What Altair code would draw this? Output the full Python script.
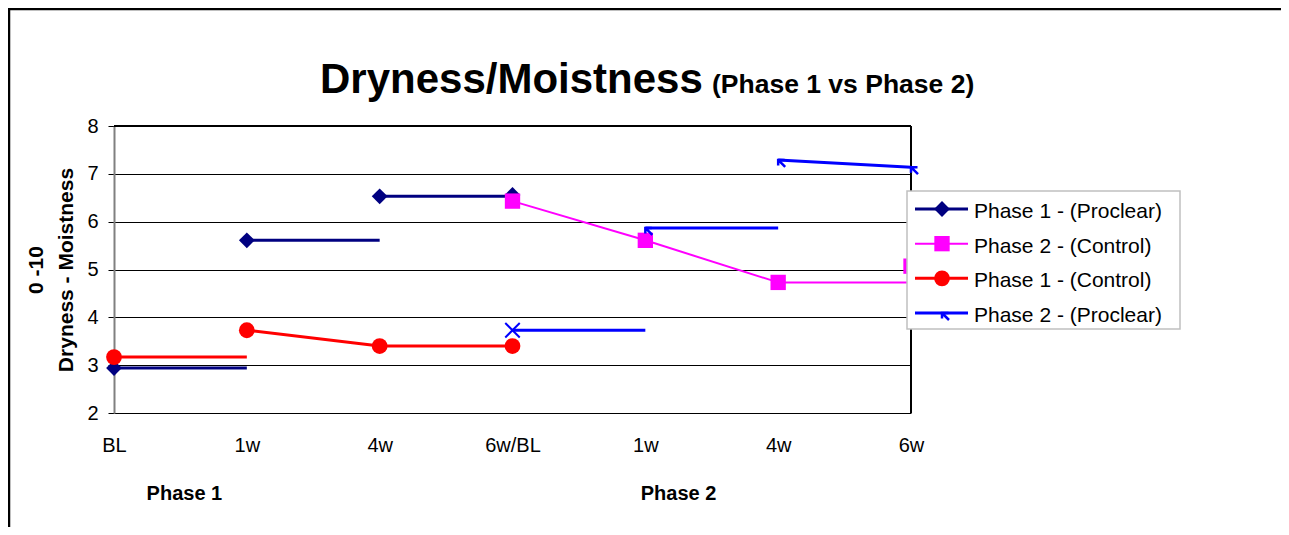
import altair as alt
import pandas as pd

# ---------------- data ----------------
x_labels = ["BL", "1w", "4w", "6w/BL", "1w", "4w", "6w"]
y_ticks = [2, 3, 4, 5, 6, 7, 8]
series_names = ["Phase 1 - (Proclear)", "Phase 2 - (Control)",
                "Phase 1 - (Control)", "Phase 2 - (Proclear)"]
series_colors = ["#000080", "#FF00FF", "#FF0000", "#0000FF"]

# markers (x index, value)
p1_proclear_x = [0, 1, 2, 3]
p1_proclear_y = [2.94, 5.61, 6.53, 6.56]
p2_control_x = [3, 4, 5, 6]
p2_control_y = [6.43, 5.61, 4.73, 5.07]
p1_control_x = [0, 1, 2, 3]
p1_control_y = [3.17, 3.73, 3.40, 3.40]
p2_proclear_x = [3, 4, 5, 6]
p2_proclear_y = [3.73, 5.87, 7.29, 7.14]

# line pieces as drawn: start x, start value, end x, end value
p1_proclear_seg_x0 = [0, 1, 2]
p1_proclear_seg_y0 = [2.94, 5.61, 6.53]
p1_proclear_seg_x1 = [1, 2, 3]
p1_proclear_seg_y1 = [2.94, 5.61, 6.53]

p2_control_seg_x0 = [3, 4, 5]
p2_control_seg_y0 = [6.43, 5.61, 4.73]
p2_control_seg_x1 = [4, 5, 6]
p2_control_seg_y1 = [5.61, 4.73, 4.73]

p1_control_seg_x0 = [0, 1, 2]
p1_control_seg_y0 = [3.17, 3.73, 3.40]
p1_control_seg_x1 = [1, 2, 3]
p1_control_seg_y1 = [3.17, 3.40, 3.40]

p2_proclear_seg_x0 = [3, 4, 5]
p2_proclear_seg_y0 = [3.73, 5.87, 7.29]
p2_proclear_seg_x1 = [4, 5, 6]
p2_proclear_seg_y1 = [3.73, 5.87, 7.14]

title_main = "Dryness/Moistness"
title_sub = "(Phase 1 vs Phase 2)"
y_title = ["0 -10", "Dryness - Moistness"]
phase_labels = ["Phase 1", "Phase 2"]
phase_label_x = [0.53, 4.25]

FONT = "Liberation Sans"
W, H = 797, 287

# ---------------- scales / axes ----------------
label_expr = "[" + ",".join("'%s'" % l for l in x_labels) + "][datum.value]"
xs = alt.Scale(domain=[0, 6], nice=False, zero=False)
ys = alt.Scale(domain=[2, 8], nice=False, zero=False)
x_axis = alt.Axis(values=list(range(7)), labelExpr=label_expr, grid=False, domain=False,
                  ticks=False, labelFontSize=20, labelPadding=22, labelColor="black",
                  labelFont=FONT, labelOverlap=False, labelFlush=False)
y_axis = alt.Axis(values=y_ticks, grid=True, gridColor="black", gridWidth=1, gridOpacity=1,
                  domainColor="#808080", domainWidth=2, tickColor="black", tickSize=6,
                  tickWidth=1, labelFontSize=20, labelPadding=10, labelColor="black",
                  labelFont=FONT, titleFontSize=21, titleFontWeight="bold", titlePadding=10,
                  titleColor="black", titleFont=FONT, titleLineHeight=30)


def X(field):
    return alt.X(field, type="quantitative", scale=xs, axis=x_axis, title=None)


def Y(field):
    return alt.Y(field, type="quantitative", scale=ys, axis=y_axis, title=y_title)


ARROW = "M1.3,0L0,0L0,1.1M0,0L1.4,1.4"
XMARK = "M-1,-1L1,1M-1,1L1,-1"


def markers(df, i, filt=None):
    c = series_colors[i]
    base = alt.Chart(df)
    if filt is not None:
        base = base.transform_filter(filt)
    if i == 0:
        m = base.mark_point(shape="diamond", filled=True, size=250, color=c, opacity=1)
    elif i == 1:
        m = base.mark_point(shape="square", filled=True, size=235, color=c, opacity=1)
    elif i == 2:
        m = base.mark_point(shape="circle", filled=True, size=250, color=c, opacity=1)
    else:
        m = base.mark_point(shape=ARROW, filled=False, size=100, stroke=c, strokeWidth=2.5,
                            opacity=1)
    return m


def series_layers(i, px, py, sx0, sy0, sx1, sy1, lw):
    seg = pd.DataFrame({"x0": sx0, "y0": sy0, "x1": sx1, "y1": sy1})
    pts = pd.DataFrame({"x": px, "y": py})
    lines = alt.Chart(seg).mark_rule(color=series_colors[i], strokeWidth=lw).encode(
        x=X("x0"), x2="x1", y=Y("y0"), y2="y1")
    layers = [lines]
    if i == 3:
        layers.append(alt.Chart(pts).transform_filter("datum.x == 3").mark_point(
            shape=XMARK, filled=False, size=210, stroke=series_colors[i], strokeWidth=2,
            opacity=1).encode(x=X("x"), y=Y("y")))
        layers.append(markers(pts, i, "datum.x != 3").encode(x=X("x"), y=Y("y")))
    else:
        layers.append(markers(pts, i).encode(x=X("x"), y=Y("y")))
    return layers


one = pd.DataFrame({"k": [0]})

top_border = alt.Chart(pd.DataFrame({"v": [8]})).mark_rule(color="black", strokeWidth=2).encode(
    y=Y("v"), x=alt.value(0), x2=alt.value(W))
right_border = alt.Chart(pd.DataFrame({"v": [6]})).mark_rule(color="black", strokeWidth=2).encode(
    x=X("v"), y=alt.value(0), y2=alt.value(H))

frame_top = alt.Chart(one).mark_rule(color="black", strokeWidth=2.5).encode(
    x=alt.value(-106), x2=alt.value(1170), y=alt.value(-117))
frame_left = alt.Chart(one).mark_rule(color="black", strokeWidth=2.5).encode(
    x=alt.value(-105), y=alt.value(-118), y2=alt.value(405))

t1 = alt.Chart(pd.DataFrame({"t": [title_main]})).mark_text(
    align="left", baseline="alphabetic", fontSize=42, fontWeight="bold", font=FONT,
    color="black").encode(x=alt.value(206), y=alt.value(-33), text="t:N")
t2 = alt.Chart(pd.DataFrame({"t": [title_sub]})).mark_text(
    align="left", baseline="alphabetic", fontSize=26.5, fontWeight="bold", font=FONT,
    color="black").encode(x=alt.value(598), y=alt.value(-33), text="t:N")

phases = alt.Chart(pd.DataFrame({"t": phase_labels, "x": phase_label_x})).mark_text(
    align="center", baseline="middle", fontSize=20, fontWeight="bold", font=FONT,
    color="black").encode(x=X("x"), y=alt.value(368), text="t:N")

main_layers = [top_border, right_border]
main_layers += series_layers(0, p1_proclear_x, p1_proclear_y, p1_proclear_seg_x0,
                             p1_proclear_seg_y0, p1_proclear_seg_x1, p1_proclear_seg_y1, 3)
main_layers += series_layers(1, p2_control_x, p2_control_y, p2_control_seg_x0,
                             p2_control_seg_y0, p2_control_seg_x1, p2_control_seg_y1, 2)
main_layers += series_layers(2, p1_control_x, p1_control_y, p1_control_seg_x0,
                             p1_control_seg_y0, p1_control_seg_x1, p1_control_seg_y1, 3)
main_layers += series_layers(3, p2_proclear_x, p2_proclear_y, p2_proclear_seg_x0,
                             p2_proclear_seg_y0, p2_proclear_seg_x1, p2_proclear_seg_y1, 3)
main_layers += [frame_top, frame_left, t1, t2, phases]
main = alt.layer(*main_layers)

# ---------------- legend ----------------
legend_df = pd.DataFrame({"name": series_names, "row": list(range(4))})
LY = alt.Y("row:Q", scale=alt.Scale(domain=[0, 3], range=[83, 187]), axis=None)

leg_box = alt.Chart(one).mark_rect(fill="white", stroke="#c0c0c0", strokeWidth=1.5).encode(
    x=alt.value(793), x2=alt.value(1066), y=alt.value(65), y2=alt.value(203))
leg_layers = [leg_box]
for i in range(4):
    sub = legend_df[legend_df["row"] == i]
    leg_layers.append(alt.Chart(sub).mark_rule(
        color=series_colors[i], strokeWidth=(2 if i == 1 else 3)).encode(
        y=LY, x=alt.value(801), x2=alt.value(854)))
    leg_layers.append(markers(sub, i).encode(y=LY, x=alt.value(828)))
leg_layers.append(alt.Chart(legend_df).mark_text(
    align="left", baseline="middle", fontSize=21, font=FONT, color="black", dy=3).encode(
    y=LY, x=alt.value(860), text="name:N"))
legend = alt.layer(*leg_layers)

chart = alt.layer(main, legend).resolve_scale(y="independent").properties(
    width=W, height=H,
    padding={"left": 106, "top": 118, "right": 370, "bottom": 114},
    autosize=alt.AutoSizeParams(type="none"),
    background="white",
).configure(font=FONT).configure_view(stroke="transparent")

chart.save("out.html", embed_options={"renderer": "svg", "actions": False})
